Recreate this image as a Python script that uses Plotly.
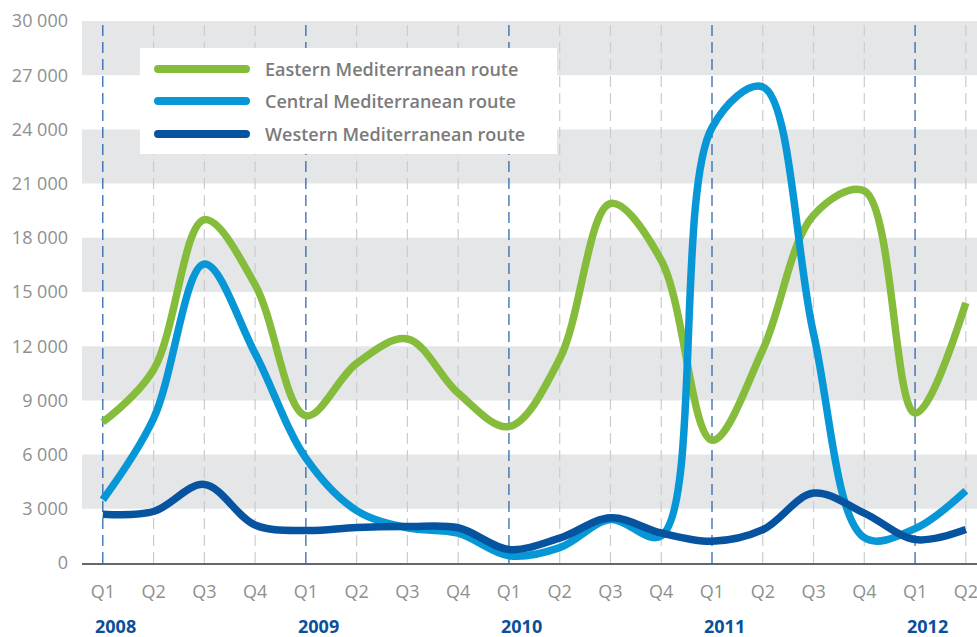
import plotly.graph_objects as go

# ---------------- data ----------------
quarters = ["Q1", "Q2", "Q3", "Q4", "Q1", "Q2", "Q3", "Q4", "Q1", "Q2", "Q3", "Q4",
            "Q1", "Q2", "Q3", "Q4", "Q1", "Q2"]
years = ["2008", "2009", "2010", "2011", "2012"]
year_start_idx = [0, 4, 8, 12, 16]

eastern = [7800, 10700, 19000, 15400, 8150, 11050, 12400, 9400, 7550, 11300,
           19900, 16750, 6800, 11800, 19250, 20600, 8300, 14400]
central = [3500, 8000, 16550, 11600, 5800, 2900, 1950, 1650, 400, 850,
           2400, 1500, 24100, 26350, 12700, 1400, 1900, 4000]
western = [2700, 2850, 4350, 2100, 1800, 1970, 2020, 1950, 750, 1380,
           2500, 1660, 1200, 1840, 3870, 2760, 1300, 1850]

series_names = ["Eastern Mediterranean route", "Central Mediterranean route",
                "Western Mediterranean route"]
series_colors = ["#86bc3c", "#0897d6", "#0654a0"]

y_ticks = [0, 3000, 6000, 9000, 12000, 15000, 18000, 21000, 24000, 27000, 30000]
y_ticktext = ["0", "3 000", "6 000", "9 000", "12 000", "15 000", "18 000",
              "21 000", "24 000", "27 000", "30 000"]
band_ranges = [(3000, 6000), (9000, 12000), (15000, 18000), (21000, 24000), (27000, 30000)]

# ---------------- layout geometry ----------------
W, H = 977, 637
ML, MR, MT, MB = 82, 0, 21, 74
PW, PH = W - ML - MR, H - MT - MB


def px(xp):
    return (xp - ML) / PW


def py(yp):
    return (H - MB - yp) / PH


x_idx = list(range(len(quarters)))
FONT = "Open Sans"

fig = go.Figure()
for name, vals, col in zip(series_names, [eastern, central, western], series_colors):
    fig.add_trace(go.Scatter(
        x=x_idx, y=vals, mode="lines", name=name,
        line=dict(color=col, width=7.5, shape="spline", smoothing=1.0),
        showlegend=False, hoverinfo="skip"))

shapes = []
# grey horizontal bands
for lo, hi in band_ranges:
    shapes.append(dict(type="rect", xref="paper", yref="y", x0=0, x1=1, y0=lo, y1=hi,
                       fillcolor="#e5e6e8", line=dict(width=0), layer="below"))
# vertical dashed lines
for i in x_idx:
    is_year = i in year_start_idx
    shapes.append(dict(type="line", xref="x", yref="y", x0=i, x1=i, y0=0, y1=30000,
                       line=dict(color="#1f5ea8" if is_year else "#cbcccf", width=1.2,
                                 dash="11px,6px"),
                       layer="below"))
# legend box
shapes.append(dict(type="rect", xref="paper", yref="paper", x0=px(140), x1=px(557),
                   y0=py(154), y1=py(48), fillcolor="white", line=dict(width=0),
                   layer="above"))
legend_rows = [69, 101, 134]
annotations = []
for name, col, ry in zip(series_names, series_colors, legend_rows):
    shapes.append(dict(type="line", xref="paper", yref="paper", x0=px(158), x1=px(246),
                       y0=py(ry), y1=py(ry), line=dict(color=col, width=8), layer="above"))
    for cx in (158, 246):
        shapes.append(dict(type="circle", xref="paper", yref="paper",
                           x0=px(cx - 4), x1=px(cx + 4), y0=py(ry + 4), y1=py(ry - 4),
                           fillcolor=col, line=dict(width=0), layer="above"))
    annotations.append(dict(text=name, xref="paper", yref="paper", x=px(263), y=py(ry),
                            xanchor="left", yanchor="middle", showarrow=False,
                            font=dict(family=FONT, size=18, color="#7b7b7b", weight=600)))

# year labels
for yr, idx in zip(years, year_start_idx):
    annotations.append(dict(text=yr, xref="x", yref="paper", x=idx, y=py(626),
                            xanchor="left", yanchor="middle", xshift=-10, showarrow=False,
                            font=dict(family=FONT, size=18, color="#0a4f9c", weight=700)))

fig.update_layout(
    width=W, height=H, autosize=False,
    margin=dict(l=ML, r=MR, t=MT, b=MB),
    paper_bgcolor="white", plot_bgcolor="white",
    shapes=shapes, annotations=annotations, showlegend=False,
    xaxis=dict(range=[-0.41, 17.22], tickvals=x_idx, ticktext=quarters,
               showgrid=False, zeroline=False, showline=True, linecolor="#666666",
               linewidth=2, ticks="", ticklabelstandoff=11, ticklabeloverflow="allow",
               tickfont=dict(family=FONT, size=18, color="#8f8f8f")),
    yaxis=dict(range=[0, 30000], tickvals=y_ticks, ticktext=y_ticktext,
               showgrid=False, zeroline=False, showline=False, ticks="",
               ticklabelstandoff=13,
               tickfont=dict(family=FONT, size=18, color="#8f8f8f")),
)

fig.write_html("out.html")
